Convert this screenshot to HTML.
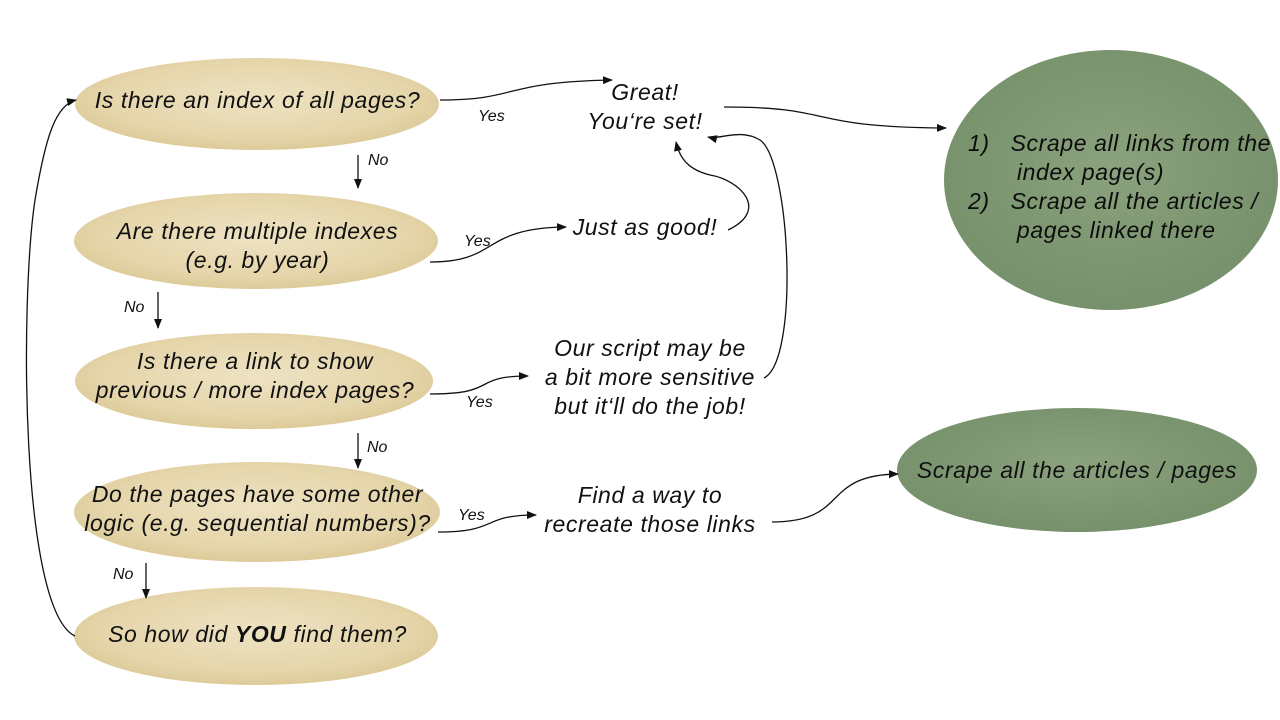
<!DOCTYPE html>
<html><head><meta charset="utf-8"><style>
html,body{margin:0;padding:0;background:#fff;}
body{width:1280px;height:720px;position:relative;overflow:hidden;font-family:"Liberation Sans",sans-serif;}
.t{position:absolute;font-style:italic;color:#111;font-size:23px;letter-spacing:0.6px;line-height:29px;text-align:center;white-space:nowrap;}
.s{position:absolute;font-style:italic;color:#111;font-size:16px;}
</style></head><body>
<svg width="1280" height="720" style="position:absolute;left:0;top:0">
<defs>
<radialGradient id="tan" cx="50%" cy="45%" r="60%">
<stop offset="0%" stop-color="#eee2c2"/><stop offset="70%" stop-color="#e5d5aa"/><stop offset="100%" stop-color="#d9c692"/>
</radialGradient>
<radialGradient id="grn" cx="50%" cy="45%" r="60%">
<stop offset="0%" stop-color="#8aa27d"/><stop offset="100%" stop-color="#748f69"/>
</radialGradient>
<marker id="a" markerWidth="10" markerHeight="10" refX="9" refY="5" orient="auto" markerUnits="userSpaceOnUse">
<path d="M0,1 L10,5 L0,9 z" fill="#111"/></marker>
</defs>
<ellipse cx="257" cy="104" rx="182" ry="46" fill="url(#tan)"/>
<ellipse cx="256" cy="241" rx="182" ry="48" fill="url(#tan)"/>
<ellipse cx="254" cy="381" rx="179" ry="48" fill="url(#tan)"/>
<ellipse cx="257" cy="512" rx="183" ry="50" fill="url(#tan)"/>
<ellipse cx="256" cy="636" rx="182" ry="49" fill="url(#tan)"/>
<ellipse cx="1111" cy="180" rx="167" ry="130" fill="url(#grn)"/>
<ellipse cx="1077" cy="470" rx="180" ry="62" fill="url(#grn)"/>
<g fill="none" stroke="#111" stroke-width="1.3">
<path d="M440,100 C520,100 500,82 612,80" marker-end="url(#a)"/>
<path d="M724,107 C840,107 800,127 946,128" marker-end="url(#a)"/>
<path d="M358,155 L358,188" marker-end="url(#a)"/>
<path d="M430,262 C500,262 480,228 566,227" marker-end="url(#a)"/>
<path d="M728,230 C770,210 740,180 710,175 C690,170 680,160 676,142" marker-end="url(#a)"/>
<path d="M158,292 L158,328" marker-end="url(#a)"/>
<path d="M430,394 C500,394 470,376 528,376" marker-end="url(#a)"/>
<path d="M764,378 C800,360 790,160 760,140 C740,128 720,140 708,137" marker-end="url(#a)"/>
<path d="M358,433 L358,468" marker-end="url(#a)"/>
<path d="M438,532 C500,532 480,515 536,515" marker-end="url(#a)"/>
<path d="M772,522 C850,522 820,475 898,474" marker-end="url(#a)"/>
<path d="M146,563 L146,598" marker-end="url(#a)"/>
<path d="M75,636 C20,610 20,300 35,200 C45,140 55,105 76,100" marker-end="url(#a)"/>
</g>
</svg>
<div class="t" style="left:75px;top:86px;width:365px">Is there an index of all pages?</div>
<div class="t" style="left:75px;top:217px;width:365px">Are there multiple indexes<br>(e.g. by year)</div>
<div class="t" style="left:75px;top:347px;width:360px">Is there a link to show<br>previous / more index pages?</div>
<div class="t" style="left:75px;top:480px;width:365px">Do the pages have some other<br>logic (e.g. sequential numbers)?</div>
<div class="t" style="left:75px;top:620px;width:365px">So how did <b>YOU</b> find them?</div>
<div class="t" style="left:560px;top:78px;width:170px">Great!<br>You‘re set!</div>
<div class="t" style="left:560px;top:213px;width:170px">Just as good!</div>
<div class="t" style="left:520px;top:334px;width:260px">Our script may be<br>a bit more sensitive<br>but it‘ll do the job!</div>
<div class="t" style="left:520px;top:481px;width:260px">Find a way to<br>recreate those links</div>
<div class="t" style="left:897px;top:456px;width:360px">Scrape all the articles / pages</div>
<div class="t" style="left:968px;top:129px;text-align:left;color:#0c0c0c">1)&nbsp;&nbsp;&nbsp;Scrape all links from the<br>&nbsp;&nbsp;&nbsp;&nbsp;&nbsp;&nbsp;&nbsp;index page(s)<br>2)&nbsp;&nbsp;&nbsp;Scrape all the articles /<br>&nbsp;&nbsp;&nbsp;&nbsp;&nbsp;&nbsp;&nbsp;pages linked there</div>
<div class="s" style="left:478px;top:108px">Yes</div>
<div class="s" style="left:368px;top:152px">No</div>
<div class="s" style="left:464px;top:233px">Yes</div>
<div class="s" style="left:124px;top:299px">No</div>
<div class="s" style="left:466px;top:394px">Yes</div>
<div class="s" style="left:367px;top:439px">No</div>
<div class="s" style="left:458px;top:507px">Yes</div>
<div class="s" style="left:113px;top:566px">No</div>
</body></html>
